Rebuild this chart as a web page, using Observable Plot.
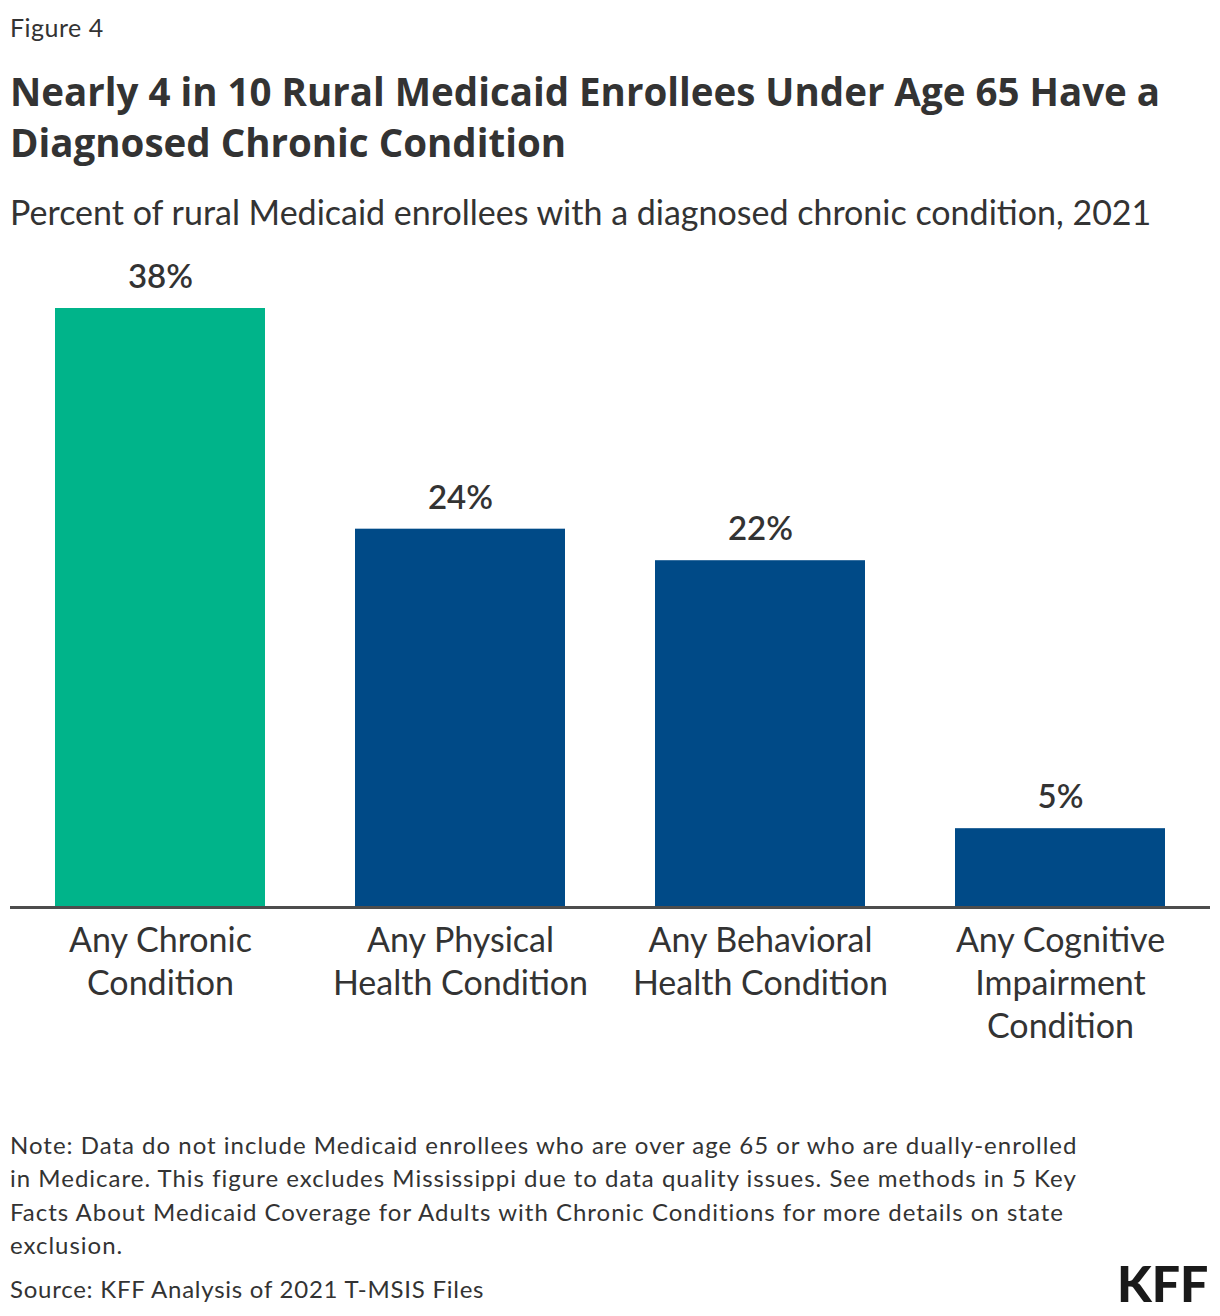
<!DOCTYPE html>
<html>
<head>
<meta charset="utf-8">
<script src="https://cdn.jsdelivr.net/npm/d3@7"></script>
<script src="https://cdn.jsdelivr.net/npm/@observablehq/plot@0.6"></script>
<style>
  html, body { margin: 0; padding: 0; background: #fff; }
  body { width: 1220px; height: 1316px; position: relative; overflow: hidden; font-family: Lato, "Noto Sans", sans-serif; color: #333; }
  .abs { position: absolute; left: 10px; white-space: nowrap; }
  #fig { top: 12px; font-size: 25px; letter-spacing: 0.5px; line-height: 30px; }
  #title { top: 66px; font-family: "Open Sans", Lato, sans-serif; font-size: 38.5px; font-weight: 700; line-height: 51px; }
  #subtitle { top: 192px; font-size: 34px; line-height: 40px; }
  #chart { position: absolute; left: 0; top: 250px; }
  #note { top: 1128px; font-size: 24px; letter-spacing: 1px; line-height: 33.3px; }
  #source { top: 1272px; font-size: 24px; letter-spacing: 0.75px; line-height: 33px; }
  #logo { position: absolute; left: 1117px; top: 1258px; font-size: 50px; font-weight: 900; color: #1a1a1a; line-height: 50px; }
</style>
</head>
<body>
<div id="fig" class="abs">Figure 4</div>
<div id="title" class="abs">Nearly 4 in 10 Rural Medicaid Enrollees Under Age 65 Have a<br>Diagnosed Chronic Condition</div>
<div id="subtitle" class="abs">Percent of rural Medicaid enrollees with a diagnosed chronic condition, 2021</div>
<div id="chart"></div>
<div id="note" class="abs">Note: Data do not include Medicaid enrollees who are over age 65 or who are dually-enrolled<br>in Medicare. This figure excludes Mississippi due to data quality issues. See methods in 5 Key<br>Facts About Medicaid Coverage for Adults with Chronic Conditions for more details on state<br>exclusion.</div>
<div id="source" class="abs">Source: KFF Analysis of 2021 T-MSIS Files</div>
<div id="logo">KFF</div>
<script>
const categories = [
  "Any Chronic\nCondition",
  "Any Physical\nHealth Condition",
  "Any Behavioral\nHealth Condition",
  "Any Cognitive\nImpairment\nCondition"
];
const values = [38, 24, 22, 5];
const valueLabels = ["38%", "24%", "22%", "5%"];
const highlighted = "Any Chronic\nCondition";

const data = categories.map((c, i) => ({category: c, value: values[i], label: valueLabels[i]}));

const GREEN = "#00b48a";
const BLUE = "#004a87";

const chart = Plot.plot({
  width: 1220,
  height: 810,
  marginLeft: 10,
  marginRight: 10,
  marginTop: 58,
  marginBottom: 153,
  style: {fontFamily: "Lato, 'Noto Sans', sans-serif", color: "#333", background: "transparent"},
  x: {domain: categories, paddingInner: 0.3, paddingOuter: 0.15, axis: null},
  y: {domain: [0, 38], axis: null},
  marks: [
    Plot.barY(data, {x: "category", y: "value", fill: d => d.category === highlighted ? GREEN : BLUE}),
    Plot.ruleY([0], {stroke: "#4d4d4d", strokeWidth: 3}),
    Plot.text(data, {x: "category", y: "value", text: "label", dy: -31, lineAnchor: "middle", fontSize: 33, fontWeight: 600, fill: "#333"}),
    Plot.text(data, {x: "category", y: 0, text: "category", dy: 14, lineAnchor: "top", lineHeight: 1.26, fontSize: 34, fill: "#333"})
  ]
});
document.getElementById("chart").appendChild(chart);
</script>
</body>
</html>
